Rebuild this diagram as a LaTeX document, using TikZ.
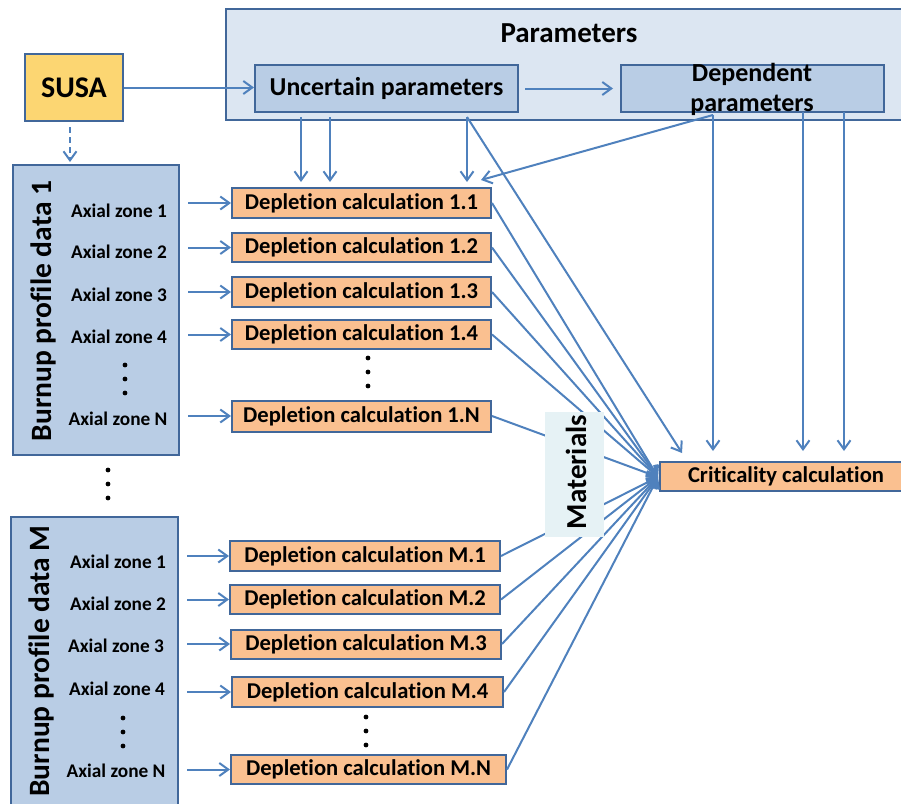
\documentclass[tikz,border=0pt]{standalone}
\usepackage{fontspec}
\setmainfont{Carlito}[Ligatures=NoCommon]
\usetikzlibrary{arrows.meta}
\definecolor{lineblue}{HTML}{4F81BD}
\definecolor{edgeblue}{HTML}{41679A}
\definecolor{parfill}{HTML}{DCE6F2}
\definecolor{boxblue}{HTML}{B9CDE5}
\definecolor{orangefill}{HTML}{FAC090}
\definecolor{susafill}{HTML}{FCD672}
\definecolor{matfill}{HTML}{E6F2F5}
\begin{document}
\begin{tikzpicture}[x=1pt,y=-1pt,
  box/.style={draw=edgeblue, line width=2pt, inner sep=0pt, rectangle},
  depbox/.style={box, fill=orangefill, font=\fontsize{22.6}{26}\selectfont\bfseries},
  bluebox/.style={box, fill=boxblue},
  arr/.style={draw=lineblue, line width=2pt, -{Straight Barb[length=9pt,width=13pt,line width=2pt]}},
  axl/.style={font=\fontsize{19.3}{22}\selectfont\bfseries, inner sep=0pt},
  bigt/.style={font=\fontsize{29.5}{32}\selectfont\bfseries, inner sep=0pt},
  dotn/.style={circle, fill=black, inner sep=0pt, minimum size=4.8pt}
]
\useasboundingbox (0,0) rectangle (901,803);

% containers
\node[box, fill=parfill, minimum width=686pt, minimum height=111pt] (par) at (569,64.5) {};
\node[font=\fontsize{29}{33}\selectfont\bfseries, inner sep=0pt] (partext) at (569,33) {Parameters};
\node[box, fill=susafill, minimum width=98pt, minimum height=67pt, font=\fontsize{30}{34}\selectfont\bfseries] (susa) at (74,87.5) {SUSA};
\node[bluebox, minimum width=263pt, minimum height=47pt, font=\fontsize{25.8}{30}\selectfont\bfseries] (unc) at (386.5,88.5) {Uncertain parameters};
\node[bluebox, minimum width=263pt, minimum height=47pt] (dep) at (752.5,88.5) {};
\node[font=\fontsize{26}{30}\selectfont\bfseries, align=center, inner sep=0pt] (deptext) at (752,89) {Dependent\\parameters};

\node[bluebox, minimum width=166pt, minimum height=290pt] (b1) at (96,310) {};
\node[bigt, rotate=90] (b1t) at (43,311) {Burnup profile data 1};
\node[bluebox, minimum width=167pt, minimum height=289pt] (bM) at (94.5,661.5) {};
\node[bigt, rotate=90] (bMt) at (41,661) {Burnup profile data M};

% axial zone labels, block 1
\node[axl] (a11) at (119,211) {Axial zone 1};
\node[axl] (a12) at (119,252) {Axial zone 2};
\node[axl] (a13) at (119,295) {Axial zone 3};
\node[axl] (a14) at (119,337) {Axial zone 4};
\node[axl] (a1N) at (118,419) {Axial zone N};
\node[dotn] (p11) at (125,365) {};
\node[dotn] (p12) at (125,379) {};
\node[dotn] (p13) at (125,393) {};

% axial zone labels, block M
\node[axl] (aM1) at (118,562) {Axial zone 1};
\node[axl] (aM2) at (118,604) {Axial zone 2};
\node[axl] (aM3) at (116,646) {Axial zone 3};
\node[axl] (aM4) at (117,689) {Axial zone 4};
\node[axl] (aMN) at (116,771) {Axial zone N};
\node[dotn] (pM1) at (123,718) {};
\node[dotn] (pM2) at (123,732) {};
\node[dotn] (pM3) at (123,746) {};

% dots between blocks
\node[dotn] (q1) at (108,470) {};
\node[dotn] (q2) at (108,484) {};
\node[dotn] (q3) at (108,498) {};

% depletion boxes
\node[depbox, minimum width=259pt, minimum height=30pt] (d11) at (361.5,203) {Depletion calculation 1.1};
\node[depbox, minimum width=259pt, minimum height=29pt] (d12) at (361.5,247.5) {Depletion calculation 1.2};
\node[depbox, minimum width=259pt, minimum height=30pt] (d13) at (361.5,292) {Depletion calculation 1.3};
\node[depbox, minimum width=259pt, minimum height=29pt] (d14) at (361.5,334.5) {Depletion calculation 1.4};
\node[depbox, minimum width=259pt, minimum height=31pt] (d1N) at (361.5,416) {Depletion calculation 1.N};
\node[dotn] (r11) at (368,358) {};
\node[dotn] (r12) at (368,372) {};
\node[dotn] (r13) at (368,386) {};

\node[depbox, minimum width=270pt, minimum height=30pt] (dM1) at (365,556) {Depletion calculation M.1};
\node[depbox, minimum width=270pt, minimum height=29pt] (dM2) at (365,599.5) {Depletion calculation M.2};
\node[depbox, minimum width=270pt, minimum height=29pt] (dM3) at (366,644) {Depletion calculation M.3};
\node[depbox, minimum width=271pt, minimum height=30pt] (dM4) at (367.5,692) {Depletion calculation M.4};
\node[depbox, minimum width=275pt, minimum height=29pt] (dMN) at (368.5,769.5) {Depletion calculation M.N};
\node[dotn] (rM1) at (366,717) {};
\node[dotn] (rM2) at (366,731) {};
\node[dotn] (rM3) at (366,745) {};

\node[depbox, minimum width=252pt, minimum height=29pt] (crit) at (786,476.5) {Criticality calculation};

% coordinates
\coordinate (cv) at (658,477);
\coordinate (s1) at (70,127);
\coordinate (u1) at (301,117);
\coordinate (u2) at (330,117);
\coordinate (u3) at (467,117);
\coordinate (u3e) at (682,453);
\coordinate (dp1) at (713,115);
\coordinate (dp2) at (803,112);
\coordinate (dp3) at (844,112);

% connectors at top
\draw[arr] (susa.east) -- (susa.east -| unc.west);
\draw[arr] ([xshift=6pt]unc.east) -- ([xshift=-7pt]dep.west);
\draw[arr, dash pattern=on 6pt off 4pt] (s1) -- ([yshift=2pt]s1 |- b1.north);
\draw[arr] (u1) -- ([yshift=5pt]u1 |- d11.north);
\draw[arr] (u2) -- ([yshift=5pt]u2 |- d11.north);
\draw[arr] (u3) -- ([yshift=5pt]u3 |- d11.north);
\draw[arr] (u3) -- (u3e);
\draw[arr] (dp1) -- ([xshift=-11pt,yshift=7pt]d11.north east);
\draw[arr] (dp1) -- ([yshift=10pt]dp1 |- crit.north);
\draw[arr] (dp2) -- ([yshift=10pt]dp2 |- crit.north);
\draw[arr] (dp3) -- ([yshift=10pt]dp3 |- crit.north);

% axial zone arrows
\foreach \d in {d11,d12,d13,d14,d1N}{
  \draw[arr] ([xshift=8pt]\d.west -| b1.east) -- (\d.west);
}
\foreach \d in {dM1,dM2,dM3,dM4,dMN}{
  \draw[arr] ([xshift=8pt]\d.west -| bM.east) -- (\d.west);
}
% to criticality
\foreach \d in {d11,d12,d13,d14,d1N,dM1,dM2,dM3,dM4,dMN}{
  \draw[arr] (\d.east) -- (cv);
}

% materials label on top
\node[fill=matfill, minimum width=59pt, minimum height=125pt, inner sep=0pt] (mat) at (574.5,474.5) {};
\node[bigt, font=\fontsize{29}{32}\selectfont\bfseries, rotate=90] (matt) at (576,472) {Materials};
\end{tikzpicture}
\end{document}
